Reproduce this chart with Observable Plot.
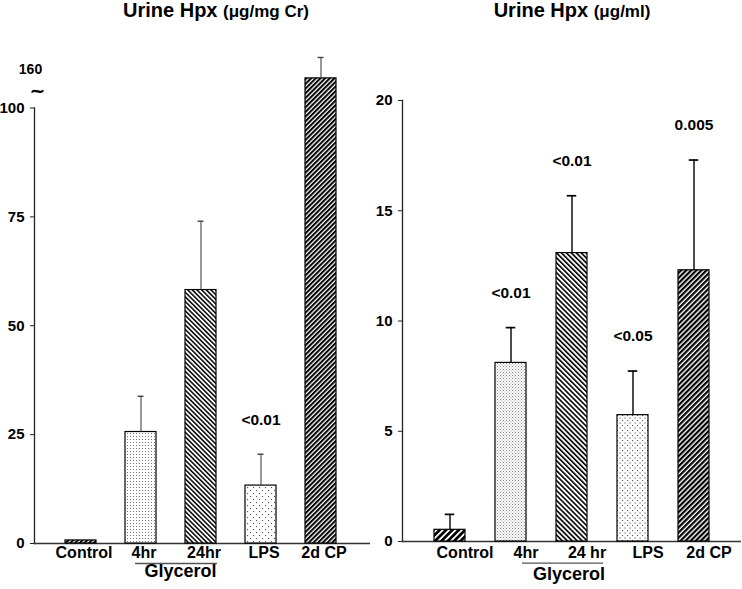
<!DOCTYPE html>
<html><head><meta charset="utf-8">
<script src="https://cdn.jsdelivr.net/npm/d3@7"></script>
<script src="https://cdn.jsdelivr.net/npm/@observablehq/plot@0.6"></script>
<style>
body{margin:0;background:#fff;font-family:"Liberation Sans",Arial,sans-serif;}
#wrap{display:flex;width:742px;height:589px;}
.panel{position:relative;width:371px;height:589px;}
.title{position:absolute;top:0;white-space:nowrap;transform:translateX(-50%);font-weight:bold;font-size:20px;line-height:20px;color:#000;}
.title span{font-size:17px;}
.chart{position:absolute;top:24px;left:0;}
</style></head><body>
<svg width="0" height="0" style="position:absolute">
<defs>
<pattern id="L-fwd" patternUnits="userSpaceOnUse" width="3.3" height="10" patternTransform="rotate(45)">
  <rect width="3.3" height="10" fill="#fff"/><rect width="2.0" height="10" fill="#000"/>
</pattern>
<pattern id="L-back" patternUnits="userSpaceOnUse" width="3.3" height="10" patternTransform="rotate(-45)">
  <rect width="3.3" height="10" fill="#fff"/><rect width="1.5" height="10" fill="#000"/>
</pattern>
<pattern id="L-dots" patternUnits="userSpaceOnUse" width="3" height="3">
  <rect width="3" height="3" fill="#fff"/><rect x="1" y="1" width="1" height="1" fill="#777"/>
</pattern>
<pattern id="L-sparse" patternUnits="userSpaceOnUse" width="6" height="6">
  <rect width="6" height="6" fill="#fff"/><rect x="1" y="1" width="1.1" height="1.1" fill="#555"/><rect x="4" y="4" width="1.1" height="1.1" fill="#555"/>
</pattern>
<pattern id="R-fwd" patternUnits="userSpaceOnUse" width="3.6" height="10" patternTransform="rotate(45)">
  <rect width="3.6" height="10" fill="#fff"/><rect width="2.2" height="10" fill="#000"/>
</pattern>
<pattern id="R-ctrl" patternUnits="userSpaceOnUse" width="4.5" height="10" patternTransform="rotate(45)">
  <rect width="4.5" height="10" fill="#fff"/><rect width="2.7" height="10" fill="#000"/>
</pattern>
<pattern id="R-back" patternUnits="userSpaceOnUse" width="3.5" height="10" patternTransform="rotate(-45)">
  <rect width="3.5" height="10" fill="#fff"/><rect width="1.6" height="10" fill="#000"/>
</pattern>
<pattern id="R-dots" patternUnits="userSpaceOnUse" width="3" height="3">
  <rect width="3" height="3" fill="#fff"/><rect x="0" y="0" width="1" height="1" fill="#888"/><rect x="1.5" y="1.5" width="1" height="1" fill="#999"/>
</pattern>
<pattern id="R-sparse" patternUnits="userSpaceOnUse" width="5" height="5">
  <rect width="5" height="5" fill="#fff"/><rect x="1" y="1" width="1.1" height="1.1" fill="#555"/><rect x="3.5" y="3.5" width="1.1" height="1.1" fill="#555"/>
</pattern>
</defs></svg>
<div id="wrap">
  <div class="panel" id="left"><div class="title" style="left:216px">Urine Hpx <span>(μg/mg Cr)</span></div></div>
  <div class="panel" id="right"><div class="title" style="left:201px">Urine Hpx <span>(μg/ml)</span></div></div>
</div>
<script>
// ---- data ----
const categories = ["Control", "4hr", "24hr", "LPS", "2d CP"];
const leftLabels = ["Control", "4hr", "24hr", "LPS", "2d CP"];
const rightLabels = ["Control", "4hr", "24 hr", "LPS", "2d CP"];
// left panel: µg/mg Cr (2d CP bar drawn on broken axis, top marked 160)
const leftMean = [0.7, 25.6, 58.2, 13.3, 106.8];
const leftErr = [0, 8.2, 15.8, 7.2, 4.8];
const leftP = ["", "", "", "<0.01", ""];
const leftTicks = [0, 25, 50, 75, 100];
// right panel: µg/ml
const rightMean = [0.53, 8.1, 13.08, 5.73, 12.3];
const rightErr = [0.7, 1.6, 2.6, 2.0, 5.0];
const rightP = ["", "<0.01", "<0.01", "<0.05", "0.005"];
const rightTicks = [0, 5, 10, 15, 20];
const breakLabel = "160";
const breakSymbol = "~";
const groupLabel = "Glycerol";
const groupMembers = ["4hr", "24hr"];

// ---- styles ----
const FONT = "'Liberation Sans', Arial, sans-serif";
const leftFill = {"Control": "url(#L-fwd)", "4hr": "url(#L-dots)", "24hr": "url(#L-back)", "LPS": "url(#L-sparse)", "2d CP": "url(#L-fwd)"};
const rightFill = {"Control": "url(#R-ctrl)", "4hr": "url(#R-dots)", "24hr": "url(#R-back)", "LPS": "url(#R-sparse)", "2d CP": "url(#R-fwd)"};

function rowsFor(means, errs, ps, labels) {
  return categories.map((c, i) => ({cat: c, label: labels[i], mean: means[i], hi: means[i] + errs[i], err: errs[i], p: ps[i]}));
}

function drawPanel(o) {
  const rows = o.rows;
  const errRows = rows.filter(d => d.err > 0);
  const pRows = rows.filter(d => d.p);
  const marks = [
    Plot.axisY({ticks: o.ticks, tickSize: 4, tickFormat: () => "", label: null, stroke: "#222"}),
    Plot.text(o.ticks, {y: d => d, text: d => String(d), frameAnchor: "left", textAnchor: "end", dx: -10, fontSize: 15, fontWeight: "bold", fill: "#000"}),
    Plot.frame({anchor: "left", stroke: "#222", strokeWidth: 1.3}),
    Plot.ruleY([0], {stroke: "#333", strokeWidth: 1.5}),
    Plot.barY(rows, {x: "cat", y: "mean", fill: d => o.fill[d.cat], stroke: "#000", strokeWidth: 1.2}),
    Plot.ruleX(errRows, {x: "cat", y1: "mean", y2: "hi", stroke: o.errColor, strokeWidth: o.errWidth}),
    Plot.tickY(errRows, {x: "cat", y: "hi", insetLeft: o.capInset, insetRight: o.capInset, stroke: o.errColor, strokeWidth: o.errWidth + 0.3}),
    Plot.text(pRows, {x: "cat", y: "hi", text: "p", dy: o.pDy, lineAnchor: "middle", fontSize: 15.5, fontWeight: "bold", fill: "#000"}),
    Plot.text(rows, {x: "cat", text: "label", frameAnchor: "bottom", lineAnchor: "top", dy: o.labelDy, dx: o.labelDx, fontSize: 16, fontWeight: "bold", fill: "#000"}),
    Plot.ruleY([{a: groupMembers[0], b: groupMembers[groupMembers.length - 1]}], {x1: "a", x2: "b", y: () => 0, dy: o.lineDy, dx: o.lineDx, insetLeft: o.lineInsetL, insetRight: o.lineInsetR, stroke: "#555", strokeWidth: 1.3}),
    Plot.text([groupLabel], {x: () => groupMembers[0], text: d => d, frameAnchor: "bottom", lineAnchor: "top", dx: o.groupDx, dy: o.groupDy, fontSize: 18, fontWeight: "bold", fill: "#000"})
  ];
  if (o.extra) marks.push(...o.extra);
  return Plot.plot({
    width: 371, height: 565,
    marginLeft: o.marginLeft, marginRight: 1, marginTop: o.marginTop, marginBottom: o.marginBottom,
    style: {fontFamily: FONT, fontSize: "15px", fontWeight: "bold", color: "#000", background: "transparent", overflow: "visible"},
    x: {type: "band", domain: categories, paddingInner: o.padding, paddingOuter: 0, insetLeft: o.insetL, insetRight: o.insetR, axis: null},
    y: {domain: [0, o.ticks[o.ticks.length - 1]], axis: null},
    color: {type: "identity"},
    marks
  });
}

const left = drawPanel({
  rows: rowsFor(leftMean, leftErr, leftP, leftLabels), ticks: leftTicks, fill: leftFill,
  marginLeft: 34, marginTop: 83.5, marginBottom: 46, insetL: 30, insetR: 33, padding: 0.485,
  errColor: "#444", errWidth: 1.1, capInset: 12.5, pDy: -34,
  labelDx: 3, labelDy: 3, lineDy: 20, lineDx: 0, lineInsetL: 10, lineInsetR: -1,
  groupDx: 39.5, groupDy: 21,
  extra: [
    Plot.text([breakLabel], {frameAnchor: "top-left", dx: -4, dy: -38.5, lineAnchor: "middle", textAnchor: "middle", fontSize: 14, fontWeight: "bold", fill: "#000"}),
    Plot.text([breakSymbol], {frameAnchor: "top-left", dx: 3, dy: -17, lineAnchor: "middle", textAnchor: "middle", fontSize: 19, fontWeight: "bold", fontFamily: "'DejaVu Sans', sans-serif", fill: "#000"})
  ]
});
left.classList.add("chart");
document.getElementById("left").appendChild(left);

const right = drawPanel({
  rows: rowsFor(rightMean, rightErr, rightP, rightLabels), ticks: rightTicks, fill: rightFill,
  marginLeft: 31, marginTop: 76, marginBottom: 48, insetL: 31, insetR: 31, padding: 0.487,
  errColor: "#000", errWidth: 1.4, capInset: 10.75, pDy: -35,
  labelDx: 15, labelDy: 5, lineDy: 21.7, lineDx: 20, lineInsetL: 7, lineInsetR: 4,
  groupDx: 58, groupDy: 26
});
right.classList.add("chart");
document.getElementById("right").appendChild(right);
</script>
</body></html>
